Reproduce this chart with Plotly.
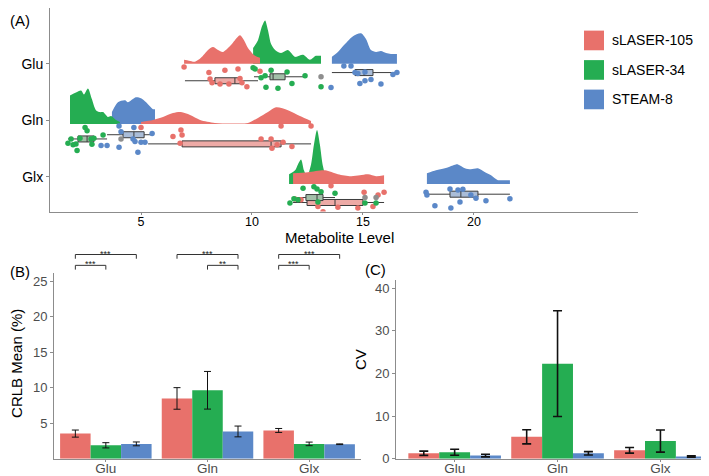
import plotly.graph_objects as go

# ---------------- data ----------------
METABS = ["Glu", "Gln", "Glx"]
SEQS = ["sLASER-105", "sLASER-34", "STEAM-8"]
COLORS = {"sLASER-105": "#E8716B", "sLASER-34": "#25AD52", "STEAM-8": "#5B88C8"}
BOX_FILL = {"sLASER-105": "#EDAAA6", "sLASER-34": "#A3BFA8", "STEAM-8": "#AABDD8"}
ROW = {"Glu": 3, "Gln": 2, "Glx": 1}

# half-violin outlines: metabolite level and relative density height
DENS_X = {
    ("Glu", "sLASER-105"): [6.94, 7.16, 7.43, 7.70, 8.02, 8.24, 8.47, 8.69, 9.01, 9.23, 9.46, 9.64, 9.82, 10.14, 10.36],
    ("Glu", "sLASER-34"): [10.05, 10.27, 10.45, 10.59, 10.72, 10.86, 11.04, 11.31, 11.62, 11.94, 12.30, 12.61, 12.88, 13.11],
    ("Glu", "STEAM-8"): [13.60, 13.87, 14.19, 14.55, 14.91, 15.14, 15.36, 15.59, 15.81, 16.04, 16.26, 16.53],
    ("Gln", "sLASER-105"): [5.00, 5.54, 5.99, 6.44, 6.80, 7.21, 7.66, 8.33, 9.14, 9.82, 10.27, 10.72, 11.08, 11.62, 12.16, 12.66],
    ("Gln", "sLASER-34"): [1.80, 2.07, 2.30, 2.43, 2.61, 2.79, 2.97, 3.15, 3.29, 3.51, 3.65, 3.87, 4.05],
    ("Gln", "STEAM-8"): [3.69, 3.96, 4.28, 4.41, 4.77, 5.00, 5.23, 5.54, 5.63],
    ("Glx", "sLASER-105"): [11.85, 12.52, 13.29, 13.87, 14.46, 14.86, 15.23, 15.59, 15.95],
    ("Glx", "sLASER-34"): [11.67, 11.94, 12.07, 12.21, 12.34, 12.48, 12.66, 12.79, 12.93, 13.06, 13.20, 13.38, 13.65, 14.32, 15.23, 15.59],
    ("Glx", "STEAM-8"): [17.88, 18.29, 18.69, 19.05, 19.28, 19.59, 19.86, 20.18, 20.50, 20.77, 21.08, 21.35, 21.62],
}
DENS_H = {
    ("Glu", "sLASER-105"): [4, 3, 2, 6, 14, 17, 14, 12, 18, 24, 29, 24, 16, 8, 6],
    ("Glu", "sLASER-34"): [16, 24, 38, 44, 34, 20, 14, 11, 14, 7, 9, 4, 8, 8],
    ("Glu", "STEAM-8"): [7, 12, 20, 28, 31, 25, 14, 12, 13, 11, 10, 10],
    ("Gln", "sLASER-105"): [2, 4, 7, 11, 12, 9, 4, 1, 0.5, 1, 6, 12, 17, 14, 8, 3],
    ("Gln", "sLASER-34"): [29, 32, 34, 30, 36, 25, 14, 12, 12, 7, 8, 4, 2],
    ("Gln", "STEAM-8"): [12, 22, 24, 22, 27, 26, 22, 15, 15],
    ("Glx", "sLASER-105"): [11, 12, 14, 10, 8, 9, 10, 8, 9],
    ("Glx", "sLASER-34"): [10, 14, 20, 25, 14, 8, 20, 40, 55, 40, 18, 6, 4, 3, 3, 3],
    ("Glx", "STEAM-8"): [11, 14, 16, 19, 20, 16, 15, 16, 12, 9, 4, 4, 4],
}

# raw points: metabolite level and jitter below the row baseline
PTS_X = {
    ("Glu", "sLASER-105"): [6.94, 8.06, 8.78, 9.37, 8.11, 8.20, 8.56, 8.96, 9.46, 9.55, 9.77, 10.36],
    ("Glu", "sLASER-34"): [10.05, 10.14, 10.86, 11.58, 10.41, 10.59, 12.39, 11.80, 10.63, 11.17, 13.11],
    ("Glu", "STEAM-8"): [14.14, 14.46, 14.64, 14.77, 15.09, 16.35, 16.53, 14.86, 15.09, 15.36, 15.81, 13.56],
    ("Gln", "sLASER-105"): [5.00, 6.80, 6.44, 6.85, 6.76, 10.41, 10.86, 10.90, 11.31, 11.40, 11.80, 12.66, 11.13],
    ("Gln", "sLASER-34"): [2.48, 2.57, 1.85, 2.25, 2.75, 2.88, 3.29, 1.71, 1.94, 2.07, 2.79, 2.12],
    ("Gln", "STEAM-8"): [4.01, 4.68, 4.10, 5.50, 4.73, 5.00, 5.18, 3.47, 3.20, 4.01, 4.64, 4.86],
    ("Glx", "sLASER-105"): [13.56, 11.94, 12.21, 12.97, 13.87, 14.77, 15.05, 15.68, 15.95, 15.45, 13.20],
    ("Glx", "sLASER-34"): [12.30, 12.79, 12.93, 13.11, 13.74, 11.71, 12.07, 12.97, 11.89, 15.09, 15.59],
    ("Glx", "STEAM-8"): [17.84, 17.88, 18.92, 19.28, 19.50, 19.37, 20.09, 20.54, 21.62, 18.24, 18.96, 19.86],
}
PTS_J = {
    ("Glu", "sLASER-105"): [0.054, 0.147, 0.108, 0.087, 0.255, 0.315, 0.337, 0.337, 0.245, 0.315, 0.381, 0.124],
    ("Glu", "sLASER-34"): [0.065, 0.087, 0.108, 0.136, 0.234, 0.201, 0.201, 0.327, 0.392, 0.408, 0.381],
    ("Glu", "STEAM-8"): [0.038, 0.038, 0.147, 0.163, 0.136, 0.180, 0.147, 0.327, 0.283, 0.261, 0.337, 0.397],
    ("Gln", "sLASER-105"): [0.060, 0.103, 0.208, 0.185, 0.322, 0.250, 0.250, 0.404, 0.033, 0.306, 0.376, 0.033, 0.348],
    ("Gln", "sLASER-34"): [0.060, 0.114, 0.250, 0.240, 0.250, 0.240, 0.185, 0.322, 0.348, 0.332, 0.338, 0.441],
    ("Gln", "STEAM-8"): [0.033, 0.060, 0.131, 0.158, 0.294, 0.306, 0.306, 0.359, 0.359, 0.387, 0.250, 0.469],
    ("Glx", "sLASER-105"): [0.028, 0.250, 0.261, 0.371, 0.387, 0.397, 0.136, 0.180, 0.136, 0.371, 0.458],
    ("Glx", "sLASER-34"): [0.070, 0.044, 0.082, 0.126, 0.152, 0.315, 0.261, 0.299, 0.245, 0.315, 0.315],
    ("Glx", "STEAM-8"): [0.136, 0.180, 0.082, 0.098, 0.087, 0.299, 0.234, 0.278, 0.245, 0.359, 0.397, 0.180],
}

# box statistics: lower whisker, q1, median, q3, upper whisker
BOX_STATS = {
    ("Glu", "sLASER-105"): [6.98, 8.33, 9.23, 9.50, 10.27],
    ("Glu", "sLASER-34"): [10.09, 10.81, 10.95, 11.49, 12.39],
    ("Glu", "STEAM-8"): [13.60, 14.64, 15.05, 15.45, 16.44],
    ("Gln", "sLASER-105"): [5.32, 6.85, 10.86, 11.31, 12.66],
    ("Gln", "sLASER-34"): [1.71, 2.16, 2.57, 2.88, 3.47],
    ("Gln", "STEAM-8"): [3.47, 4.19, 4.68, 5.14, 5.45],
    ("Glx", "sLASER-105"): [11.85, 12.48, 13.74, 15.00, 15.95],
    ("Glx", "sLASER-34"): [11.80, 12.43, 12.93, 13.20, 13.74],
    ("Glx", "STEAM-8"): [17.97, 18.92, 19.41, 20.18, 21.62],
}
OUTLIERS = {
    ("Glu", "sLASER-34"): [13.11],
    ("Gln", "sLASER-34"): [4.10],
    ("Glx", "sLASER-34"): [15.09, 15.59],
}

CRLB_MEAN = {"sLASER-105": [3.55, 8.5, 3.99], "sLASER-34": [1.9, 9.65, 2.1], "STEAM-8": [2.1, 3.85, 2.05]}
CRLB_SD = {"sLASER-105": [0.5, 1.52, 0.28], "sLASER-34": [0.37, 2.65, 0.25], "STEAM-8": [0.27, 0.76, 0.05]}
CV_MEAN = {"sLASER-105": [1.29, 5.15, 1.99], "sLASER-34": [1.53, 22.3, 4.16], "STEAM-8": [0.76, 1.29, 0.53]}
CV_SD = {"sLASER-105": [0.5, 1.65, 0.65], "sLASER-34": [0.7, 12.4, 2.6], "STEAM-8": [0.3, 0.4, 0.15]}

# significance: metabolite, group a, group b, label, tier
SIGNIF = [
    ("Glu", "sLASER-105", "STEAM-8", "***", 1),
    ("Glu", "sLASER-105", "sLASER-34", "***", 2),
    ("Gln", "sLASER-105", "STEAM-8", "***", 1),
    ("Gln", "sLASER-34", "STEAM-8", "**", 2),
    ("Glx", "sLASER-105", "STEAM-8", "***", 1),
    ("Glx", "sLASER-105", "sLASER-34", "***", 2),
]

# ---------------- styling constants ----------------
FONT = "Liberation Sans, Arial, sans-serif"
AXC = "#8c8c8c"
TICKC = "#4d4d4d"
DENS_SCALE = 1 / 61.2
BOX_OFF = {
    ("Glu", "sLASER-105"): 0.283, ("Glu", "sLASER-34"): 0.217, ("Glu", "STEAM-8"): 0.147,
    ("Gln", "sLASER-105"): 0.332, ("Gln", "sLASER-34"): 0.250, ("Gln", "STEAM-8"): 0.180,
    ("Glx", "sLASER-105"): 0.306, ("Glx", "sLASER-34"): 0.224, ("Glx", "STEAM-8"): 0.168,
}
GROUP_OFF = {"sLASER-105": -0.3, "sLASER-34": 0.0, "STEAM-8": 0.3}

fig = go.Figure()

# ---------- panel A: densities (blue, green, red order so red on top) ----------
for seq in ["STEAM-8", "sLASER-34", "sLASER-105"]:
    for m in METABS:
        xs = DENS_X[(m, seq)]
        hs = DENS_H[(m, seq)]
        base = ROW[m]
        fig.add_trace(go.Scatter(x=xs, y=[base] * len(xs), mode="lines",
                                 line=dict(width=0, color=COLORS[seq]),
                                 hoverinfo="skip", showlegend=False, xaxis="x", yaxis="y"))
        fig.add_trace(go.Scatter(x=xs, y=[base + h * DENS_SCALE for h in hs], mode="lines",
                                 line=dict(width=0, color=COLORS[seq], shape="spline", smoothing=0.8),
                                 fill="tonexty", fillcolor=COLORS[seq],
                                 hoverinfo="skip", showlegend=False, xaxis="x", yaxis="y"))

# points
for seq in SEQS:
    for m in METABS:
        fig.add_trace(go.Scatter(
            x=PTS_X[(m, seq)], y=[ROW[m] - j for j in PTS_J[(m, seq)]], mode="markers",
            marker=dict(size=5.5, color=COLORS[seq]), hoverinfo="skip", showlegend=False,
            xaxis="x", yaxis="y"))

# boxes
for seq in SEQS:
    for m in METABS:
        lo, q1, med, q3, hi = BOX_STATS[(m, seq)]
        fig.add_trace(go.Box(
            orientation="h", y=[ROW[m] - BOX_OFF[(m, seq)]], q1=[q1], median=[med], q3=[q3],
            lowerfence=[lo], upperfence=[hi], width=0.1, whiskerwidth=0,
            fillcolor=BOX_FILL[seq], line=dict(color="#3c3c3c", width=1),
            boxpoints=False, hoverinfo="skip", showlegend=False, xaxis="x", yaxis="y"))
        if (m, seq) in OUTLIERS:
            o = OUTLIERS[(m, seq)]
            fig.add_trace(go.Scatter(
                x=o, y=[ROW[m] - BOX_OFF[(m, seq)]] * len(o), mode="markers",
                marker=dict(size=5.5, color="#8e8e8e"), hoverinfo="skip", showlegend=False,
                xaxis="x", yaxis="y"))

# ---------- panel B & C bars ----------
for seq in SEQS:
    fig.add_trace(go.Bar(x=[0, 1, 2], y=CRLB_MEAN[seq], marker=dict(color=COLORS[seq], line=dict(width=0)),
                         error_y=dict(type="data", array=CRLB_SD[seq], color="#111111", thickness=1, width=3.5),
                         offsetgroup=seq, showlegend=False, xaxis="x2", yaxis="y2"))
    fig.add_trace(go.Bar(x=[0, 1, 2], y=CV_MEAN[seq], marker=dict(color=COLORS[seq], line=dict(width=0)),
                         error_y=dict(type="data", array=CV_SD[seq], color="#111111", thickness=1.6, width=4.5),
                         offsetgroup=seq, showlegend=False, xaxis="x3", yaxis="y3"))

# significance brackets
TIER_Y = {1: (0.72, 0.54), 2: (0.26, 0.08)}
annotations = []
for m, a, b, lab, tier in SIGNIF:
    ci = METABS.index(m)
    xa = ci + GROUP_OFF[a]
    xb = ci + GROUP_OFF[b]
    top, leg = TIER_Y[tier]
    fig.add_trace(go.Scatter(x=[xa, xa, xb, xb], y=[leg, top, top, leg], mode="lines",
                             line=dict(color="#333333", width=1), hoverinfo="skip",
                             showlegend=False, xaxis="x2", yaxis="y4"))
    annotations.append(dict(x=(xa + xb) / 2, y=top, xref="x2", yref="y4", text=lab,
                            showarrow=False, yanchor="middle", yshift=1,
                            font=dict(size=9, color="#222222", family=FONT)))

# ---------- annotations: labels, titles, legend ----------
def pap_y(px):
    return 1 - px / 476

annotations += [
    dict(x=0.0, y=pap_y(13), xref="paper", yref="paper", text="(A)", showarrow=False,
         xanchor="left", yanchor="middle", font=dict(size=15, color="black", family=FONT)),
    dict(x=0.0, y=pap_y(268), xref="paper", yref="paper", text="(B)", showarrow=False,
         xanchor="left", yanchor="middle", font=dict(size=15, color="black", family=FONT)),
    dict(x=355 / 709, y=pap_y(266), xref="paper", yref="paper", text="(C)", showarrow=False,
         xanchor="left", yanchor="middle", font=dict(size=15, color="black", family=FONT)),
    dict(x=331 / 709, y=pap_y(233), xref="paper", yref="paper", text="Metabolite Level", showarrow=False,
         xanchor="center", yanchor="middle", font=dict(size=15, color="black", family=FONT)),
    dict(x=9 / 709, y=pap_y(362), xref="paper", yref="paper", text="CRLB Mean (%)", showarrow=False,
         textangle=-90, xanchor="center", yanchor="middle", font=dict(size=15, color="black", family=FONT)),
    dict(x=353 / 709, y=pap_y(358), xref="paper", yref="paper", text="CV", showarrow=False,
         textangle=-90, xanchor="center", yanchor="middle", font=dict(size=15, color="black", family=FONT)),
]
shapes = []
for i, seq in enumerate(SEQS):
    top_px = 23 + 30 * i
    shapes.append(dict(type="rect", xref="paper", yref="paper", x0=576 / 709, x1=596 / 709,
                       y0=pap_y(top_px + 20), y1=pap_y(top_px), fillcolor=COLORS[seq],
                       line=dict(width=0)))
    annotations.append(dict(x=602 / 709, y=pap_y(top_px + 10), xref="paper", yref="paper", text=seq,
                            showarrow=False, xanchor="left", yanchor="middle",
                            font=dict(size=14, color="black", family=FONT)))

axis_common = dict(showline=True, linecolor=AXC, linewidth=1, ticks="outside", tickcolor=AXC,
                   ticklen=3, showgrid=False, zeroline=False)
xaxis_common = dict(axis_common, ticklen=2, ticklabelstandoff=-4)
xbar_common = dict(axis_common, ticklen=2, ticklabelstandoff=-5)

fig.update_layout(
    width=709, height=476, margin=dict(l=0, r=0, t=0, b=0),
    paper_bgcolor="white", plot_bgcolor="white",
    font=dict(family=FONT),
    barmode="group", bargap=0.1, bargroupgap=0, boxmode="overlay",
    showlegend=False,
    xaxis=dict(domain=[42 / 709, 630 / 709], range=[0.90, 27.39], tickvals=[5, 10, 15, 20],
               tickfont=dict(size=12.5, color="black"), anchor="y", **xaxis_common),
    yaxis=dict(domain=[1 - 207 / 476, 1.0], range=[0.544, 3.926], tickvals=[3, 2.06, 1.12],
               ticktext=METABS, tickfont=dict(size=14, color="black"), anchor="x", **axis_common),
    xaxis2=dict(domain=[46 / 709, 353 / 709], range=[-0.51, 2.51], tickvals=[0, 1, 2], ticktext=METABS,
                tickfont=dict(size=13.5, color=TICKC), anchor="y2", **xbar_common),
    yaxis2=dict(domain=[1 - 458.5 / 476, 1 - 270 / 476], range=[0, 26.1], tickvals=[5, 10, 15, 20, 25],
                tickfont=dict(size=13, color=TICKC), anchor="x2", **axis_common),
    xaxis3=dict(domain=[388 / 709, 708 / 709], range=[-0.57, 2.54], tickvals=[0, 1, 2], ticktext=METABS,
                tickfont=dict(size=13.5, color=TICKC), anchor="y3", **xbar_common),
    yaxis3=dict(domain=[1 - 458.5 / 476, 1 - 276.7 / 476], range=[0, 41.9], tickvals=[0, 10, 20, 30, 40],
                tickfont=dict(size=13, color=TICKC), anchor="x3", **axis_common),
    yaxis4=dict(domain=[1 - 268 / 476, 1 - 244 / 476], range=[0, 1], visible=False, anchor="x2"),
    annotations=annotations,
    shapes=shapes,
)

fig.write_html("out.html")
